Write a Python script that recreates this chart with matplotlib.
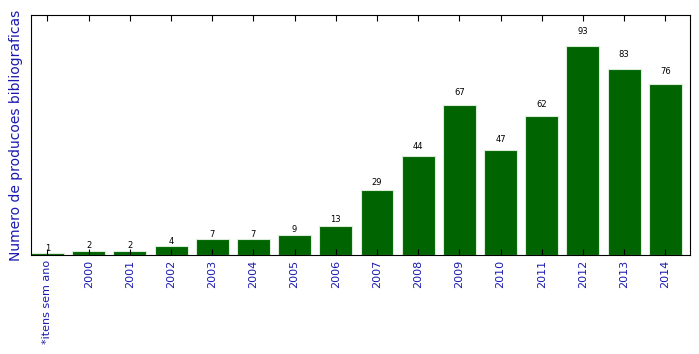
import matplotlib
matplotlib.use('Agg')
import matplotlib.pyplot as plt
import numpy as np

anos = ['*itens sem ano', '2000', '2001', '2002', '2003', '2004', '2005', '2006',
        '2007', '2008', '2009', '2010', '2011', '2012', '2013', '2014']
valores = [1, 2, 2, 4, 7, 7, 9, 13, 29, 44, 67, 47, 62, 93, 83, 76]

fig = plt.figure(figsize=(6.99, 3.54), dpi=100)
ax = fig.add_axes([31/699, 1-255/354, 659/699, 240/354])
x = np.arange(len(anos))
ax.bar(x, valores, width=0.8, color='#006400', edgecolor='#d8ecd8', linewidth=0.8)
for xi, v in zip(x, valores):
    ax.text(xi, v*1.05, str(v), ha='center', va='bottom', fontsize=6)
ax.set_xlim(-0.4, 15.6)
ax.set_ylim(0, max(valores)*1.15)
ax.set_xticks(x)
ax.set_xticklabels(anos, rotation=90, fontsize=8, color='#1a1ab0')
ax.set_yticks([])
ax.tick_params(axis='x', direction='in', top=True, length=4)
ax.set_ylabel('Numero de producoes bibliograficas', fontsize=10, color='#1a1ab0', labelpad=6)
fig.savefig('out.png', dpi=100)
